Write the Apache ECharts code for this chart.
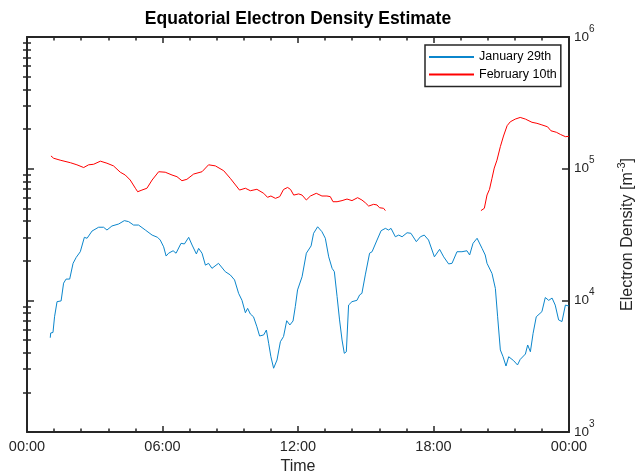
<!DOCTYPE html>
<html><head><meta charset="utf-8">
<script src="https://cdn.jsdelivr.net/npm/echarts@6/dist/echarts.min.js"></script>
<style>html,body{margin:0;padding:0;background:#fff}#c{width:638px;height:476px}</style>
</head><body><div id="c"></div>
<script>
const janHours = [1.03,1.05,1.15,1.22,1.33,1.51,1.62,1.73,1.89,2.04,2.18,2.36,2.54,2.66,2.88,3.17,3.39,3.54,3.76,4.06,4.31,4.50,4.72,4.94,5.24,5.54,5.78,5.90,6.05,6.16,6.27,6.47,6.60,6.82,6.97,7.16,7.31,7.50,7.60,7.75,7.90,8.04,8.19,8.48,8.78,9.00,9.19,9.37,9.52,9.67,9.77,9.89,10.03,10.18,10.30,10.48,10.60,10.70,10.80,10.92,11.00,11.07,11.14,11.22,11.36,11.50,11.64,11.78,11.88,11.98,12.18,12.37,12.58,12.69,12.87,13.06,13.21,13.36,13.51,13.61,13.73,13.84,13.95,14.05,14.14,14.24,14.39,14.61,14.73,14.83,14.98,15.17,15.28,15.50,15.68,15.87,16.01,16.12,16.31,16.46,16.61,16.83,17.00,17.24,17.42,17.59,17.78,18.04,18.27,18.45,18.67,18.82,19.04,19.26,19.48,19.60,19.75,19.93,20.15,20.29,20.37,20.59,20.74,20.84,20.96,21.08,21.21,21.33,21.55,21.72,21.84,22.07,22.17,22.29,22.41,22.55,22.80,22.95,23.10,23.25,23.39,23.54,23.69,23.84,23.99];
const janDensity = [5200,5650,5700,7500,9770,9900,13500,14500,14500,19100,21200,23400,30100,29600,33600,35900,35900,34200,36700,38000,40300,39600,37300,37300,34200,31300,30100,28700,25500,21700,22800,23800,22800,27100,26800,30100,26300,22500,24800,22800,18500,19100,17500,19100,16500,15600,14300,11300,10000,8050,8690,7870,7500,6300,5360,5460,5950,4720,3730,3050,3050,3520,3520,4850,5310,7000,6500,6970,8950,12000,15100,22800,25900,32300,36200,33200,29600,21400,17500,16500,10700,7100,5000,3960,4070,9210,9770,10000,11000,11300,15600,22800,23400,28700,33800,35200,34200,35200,30400,31300,30400,32600,32300,27900,30400,31300,28700,21400,24400,21400,18900,19100,23400,23400,23800,22100,27100,29600,24800,22100,19100,16000,12300,7500,4200,3730,3170,3730,3480,3230,3560,3910,4580,4070,5610,7500,8200,10500,10000,10400,9200,7100,6900,9200,9060];
const febHours = [1.06,1.18,1.47,1.92,2.21,2.51,2.73,2.95,3.25,3.54,3.83,4.13,4.35,4.57,4.80,4.90,5.09,5.31,5.54,5.83,6.12,6.42,6.64,6.86,7.08,7.38,7.75,8.04,8.34,8.71,9.00,9.41,9.67,9.89,10.18,10.48,10.65,10.80,11.00,11.19,11.36,11.54,11.67,11.81,12.03,12.18,12.37,12.55,12.81,13.06,13.28,13.43,13.55,13.73,13.95,14.17,14.39,14.64,14.83,14.98,15.13,15.35,15.50,15.61,15.79,15.87,18.00,20.10,20.25,20.37,20.48,20.59,20.69,20.81,20.96,21.10,21.26,21.40,21.62,21.84,22.07,22.36,22.58,22.80,23.05,23.20,23.44,23.62,23.84,24.00];
const febDensity = [125000,120000,116000,111000,107000,102000,107000,108000,114000,110000,105000,94000,89500,82000,71000,66800,68800,71000,82000,94800,94000,89500,86900,81000,83000,91000,94800,107000,105000,96500,84500,68800,71000,68000,69700,65000,60600,62000,59500,61300,69500,72000,69500,63000,64300,63000,57800,62000,65000,62000,62000,61300,56100,56100,57200,58800,57200,60200,57800,55100,52000,53600,53000,50500,50000,48000,null,48000,50000,63100,69700,84500,101000,116000,147000,177000,212000,227000,238000,245000,238000,225000,221000,215000,208000,194000,189000,182000,175000,176000];
const xTickLabels = ['00:00','06:00','12:00','18:00','00:00'];
const yMajor = [1000,10000,100000,1000000];
const yExpLabels = ['3','4','5','6'];
const yMinor = [2000,3000,4000,5000,6000,7000,8000,9000,20000,30000,40000,50000,60000,70000,80000,90000,200000,300000,400000,500000,600000,700000,800000,900000];

const AX = '#262626';
const BLUE = '#0B86CC';
const RED = '#FF0000';
const FONT = '"Liberation Sans", Arial, Helvetica, sans-serif';
const chart = echarts.init(document.getElementById('c'), null, {renderer:'canvas'});

const baseX = {
  type:'value', min:0, max:24, interval:6, splitLine:{show:false},
  axisLine:{show:true, onZero:false, lineStyle:{color:AX, width:2}},
  axisTick:{show:true, inside:true, length:6, lineStyle:{color:AX, width:1.5}},
  minorTick:{show:true, splitNumber:5, length:3.5, lineStyle:{color:AX, width:1.5}},
  minorSplitLine:{show:false}
};
const baseY = {
  type:'log', logBase:10, min:1000, max:1000000, splitLine:{show:false},
  axisLine:{show:true, onZero:false, lineStyle:{color:AX, width:2}}
};
const majTick = {show:true, inside:true, length:7, customValues:yMajor, lineStyle:{color:AX, width:1.5}};
const minTick = {show:true, inside:true, length:4, customValues:yMinor, lineStyle:{color:AX, width:1.5}};

chart.setOption({
  animation:false,
  backgroundColor:'#fff',
  title:{text:'Equatorial Electron Density Estimate', left:298, top:10, padding:0, textAlign:'center',
    textStyle:{fontSize:17.5, fontWeight:'bold', color:'#000', fontFamily:FONT}},
  grid:{left:27, right:69, top:37, bottom:44, containLabel:false, outerBoundsMode:'none'},
  legend:{left:425, top:45, orient:'vertical', padding:[5,4,5,4], itemGap:3.6, itemWidth:45, itemHeight:2,
    icon:'rect', borderColor:AX, borderWidth:1.5, backgroundColor:'#fff',
    textStyle:{fontSize:12.5, lineHeight:14, color:'#000', fontFamily:FONT},
    data:['January 29th','February 10th']},
  xAxis:[
    Object.assign({}, baseX, {position:'bottom',
      axisLabel:{show:true, margin:7, color:AX, fontSize:14.5, fontFamily:FONT, formatter:v => xTickLabels[Math.round(v/6)]},
      name:'Time', nameLocation:'middle', nameGap:27, nameTextStyle:{fontSize:16, color:AX, fontFamily:FONT}}),
    Object.assign({}, baseX, {position:'top', axisLabel:{show:false}})
  ],
  yAxis:[
    Object.assign({}, baseY, {position:'right', axisTick:majTick,
      axisLabel:{show:true, customValues:yMajor, margin:5, color:AX, fontFamily:FONT,
        formatter:v => '{b|10}{s|' + yExpLabels[yMajor.indexOf(v)] + '}',
        rich:{b:{fontSize:13.5, lineHeight:26, color:AX, fontFamily:FONT}, s:{fontSize:10, lineHeight:10, verticalAlign:'top', color:AX, fontFamily:FONT}}},
      name:'{n|Electron Density [m}{s|-3}{n|]}', nameLocation:'middle', nameRotate:90, nameGap:47,
      nameTextStyle:{color:AX, fontFamily:FONT, rich:{n:{fontSize:16, lineHeight:24, color:AX, fontFamily:FONT}, s:{fontSize:11, lineHeight:11, verticalAlign:'top', color:AX, fontFamily:FONT}}}}),
    Object.assign({}, baseY, {position:'right', axisLine:{show:false}, axisTick:minTick, axisLabel:{show:false}}),
    Object.assign({}, baseY, {position:'left', axisTick:majTick, axisLabel:{show:false}}),
    Object.assign({}, baseY, {position:'left', axisLine:{show:false}, axisTick:minTick, axisLabel:{show:false}})
  ],
  series:[
    {name:'January 29th', type:'line', xAxisIndex:0, yAxisIndex:0, showSymbol:false, symbol:'none',
     data:janHours.map((h,i) => [h, janDensity[i]]), lineStyle:{color:BLUE, width:1}, itemStyle:{color:BLUE}},
    {name:'February 10th', type:'line', xAxisIndex:0, yAxisIndex:0, showSymbol:false, symbol:'none', connectNulls:false,
     data:febHours.map((h,i) => [h, febDensity[i] === null ? '-' : febDensity[i]]), lineStyle:{color:RED, width:1}, itemStyle:{color:RED}}
  ]
});
</script></body></html>
